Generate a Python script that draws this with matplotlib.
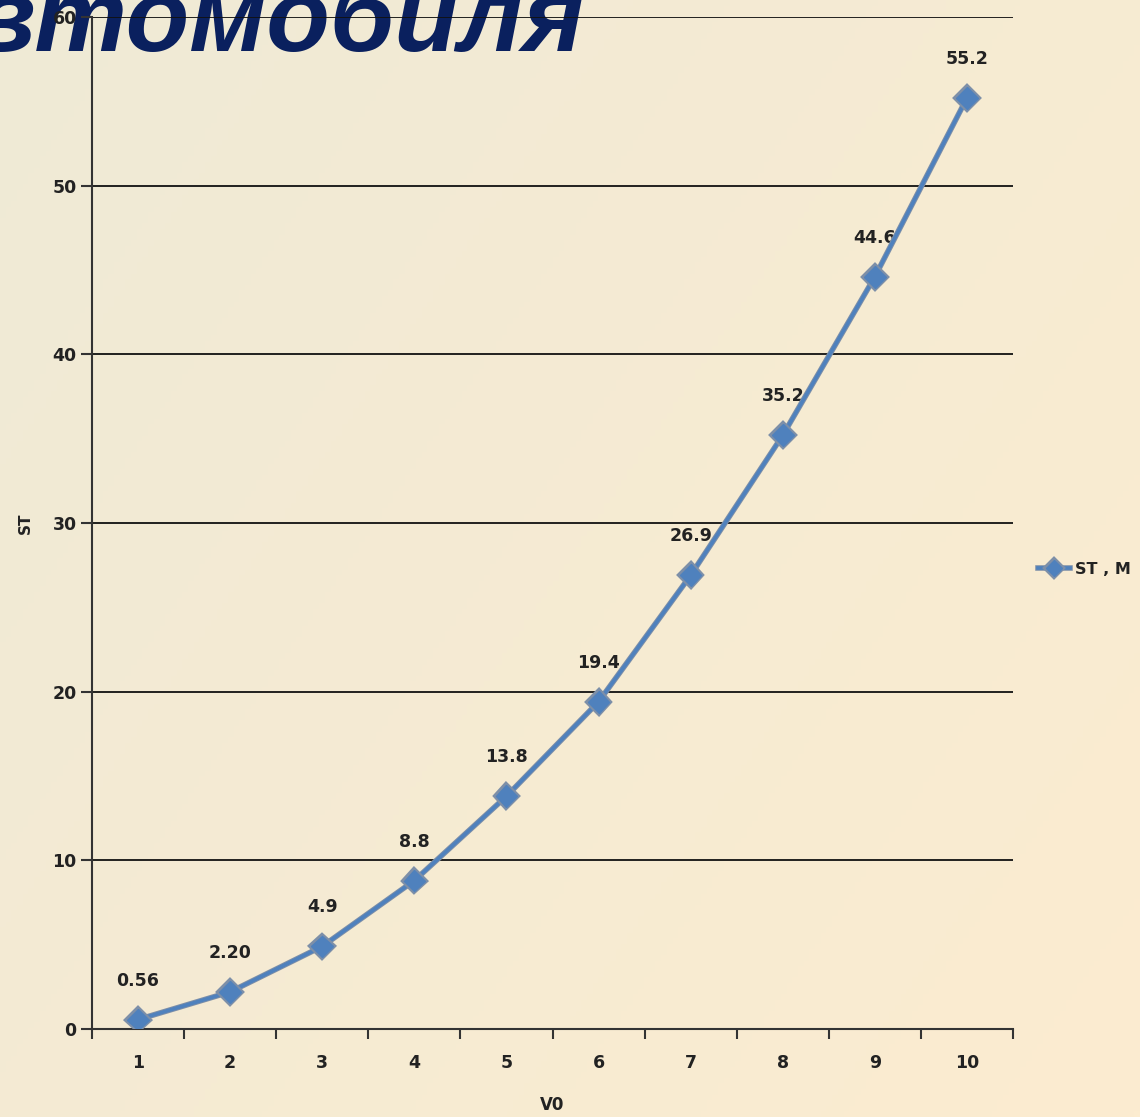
import numpy as np
import matplotlib
matplotlib.use("Agg")
import matplotlib.pyplot as plt
import matplotlib.patheffects as pe

# ---- data ----
categories = [1, 2, 3, 4, 5, 6, 7, 8, 9, 10]
st_values = [0.56, 2.20, 4.9, 8.8, 13.8, 19.4, 26.9, 35.2, 44.6, 55.2]
value_labels = ["0.56", "2.20", "4.9", "8.8", "13.8", "19.4", "26.9", "35.2", "44.6", "55.2"]
y_ticks = [0, 10, 20, 30, 40, 50, 60]
series_name = "ST , M"
title_text = "автомобиля"

W, H = 1140, 1117
fig = plt.figure(figsize=(W / 100, H / 100), dpi=100)

# background gradient
bg = fig.add_axes([0, 0, 1, 1], zorder=-2)
bg.axis("off")
gx, gy = np.meshgrid(np.linspace(0, 1, 200), np.linspace(0, 1, 200))
t = (gx * 0.6 + gy * 0.4)
c0 = np.array([239, 234, 214]) / 255
c1 = np.array([252, 236, 208]) / 255
img = c0[None, None, :] * (1 - t[..., None]) + c1[None, None, :] * t[..., None]
bg.imshow(img, aspect="auto", extent=[0, 1, 0, 1], origin="upper")
bg.set_xlim(0, 1)
bg.set_ylim(0, 1)

# title (partially clipped)
fig.text(585 / W, 1 - 51 / H, title_text, ha="right", va="baseline",
         fontsize=75, fontweight="bold", style="italic",
         family=["Liberation Sans", "DejaVu Sans"], color="#0a205e", zorder=-1)

left, right, top, bottom = 92, 1013, 17, 1029
ax = fig.add_axes([left / W, 1 - bottom / H, (right - left) / W, (bottom - top) / H])
ax.patch.set_alpha(0)

txt_color = "#222222"
font = dict(family="DejaVu Sans", fontweight="bold", color=txt_color)

ax.plot(categories, st_values, color="#4f81bd", lw=2.6, marker="D", markersize=11,
        markerfacecolor="#4f81bd", markeredgecolor="#4f81bd", zorder=5,
        label=series_name,
        path_effects=[pe.Stroke(linewidth=4.0, foreground="#7d8fa8"), pe.Normal()])

for x, y, s in zip(categories, st_values, value_labels):
    ax.annotate(s, (x, y), xytext=(0, 28), textcoords="offset points",
                ha="center", va="center", fontsize=12.5, **font)

ax.set_xlim(0.5, 10.5)
ax.set_ylim(0, 60)
ax.set_yticks(y_ticks)
ax.set_yticklabels([str(v) for v in y_ticks], fontsize=12.5, **font)
ax.set_xticks(categories)
ax.set_xticklabels([str(c) for c in categories], fontsize=12.5, **font)
ax.set_xticks(np.arange(0.5, 11, 1), minor=True)
ax.tick_params(axis="x", which="major", length=0, pad=18)
ax.tick_params(axis="x", which="minor", length=7, width=1.5, direction="out", color="#333333")
ax.tick_params(axis="y", which="major", length=8, width=1.5, direction="out", color="#333333", pad=3)

ax.grid(axis="y", color="#111111", lw=1.3)
ax.set_axisbelow(True)
for sp in ["top", "right"]:
    ax.spines[sp].set_visible(False)
for sp in ["left", "bottom"]:
    ax.spines[sp].set_color("#333333")
    ax.spines[sp].set_linewidth(1.5)

fig.text(25 / W, 1 - 523 / H, "ST", rotation=90, ha="center", va="center", fontsize=11, **font)
fig.text(552 / W, 1 - 1105 / H, "V0", ha="center", va="center", fontsize=12, **font)

handles, labels = ax.get_legend_handles_labels()
leg = fig.legend(handles, labels, loc="center left", bbox_to_anchor=(1038 / W, 1 - 569 / H),
                 frameon=False, handlelength=2.0, handletextpad=0.3, borderpad=0,
                 borderaxespad=0, prop=dict(family="DejaVu Sans", weight="bold", size=11.5))
for t_ in leg.get_texts():
    t_.set_color(txt_color)
for h in leg.legend_handles:
    h.set_markersize(8)

fig.savefig("out.png", dpi=100)
